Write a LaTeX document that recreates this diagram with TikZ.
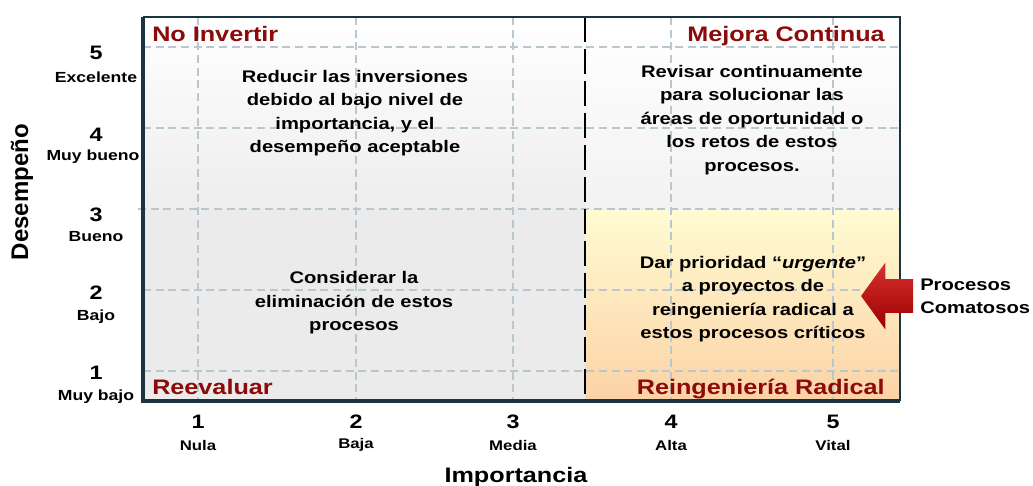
\documentclass[tikz,border=0pt]{standalone}
\usepackage{fontspec}
\setmainfont{Liberation Sans}[FakeStretch=1.2]
\newfontfamily\plainsans{Liberation Sans}
\usetikzlibrary{shapes.arrows}
\definecolor{titlered}{HTML}{8C0A0A}
\definecolor{framec}{HTML}{1A3440}
\definecolor{gridc}{HTML}{B9C7CF}
\definecolor{paleyellow}{HTML}{FFFBD2}
\definecolor{peach}{HTML}{FCD2A6}
\definecolor{arrowlight}{HTML}{D83030}
\definecolor{arrowdark}{HTML}{9C0000}
\begin{document}
\begin{tikzpicture}[x=0.75pt,y=-0.75pt,
    gridline/.style={gridc,line width=0.9pt,dash pattern=on 6pt off 3.5pt},
    quadtitle/.style={text=titlered,inner sep=0pt,font=\bfseries\fontsize{15.75}{18}\selectfont},
    quadtext/.style={align=center,inner sep=0pt,font=\bfseries\fontsize{12.6}{17.6}\selectfont},
    tnum/.style={inner sep=0pt,font=\bfseries\fontsize{14.6}{16}\selectfont},
    ylab/.style={inner sep=0pt,font=\bfseries\fontsize{11}{13}\selectfont},
    xlab/.style={inner sep=0pt,font=\bfseries\fontsize{10.5}{12}\selectfont},
    procarrow/.style={single arrow,shape border rotate=180,top color=arrowlight,bottom color=arrowdark,
        minimum height=39pt,inner xsep=0pt,inner ysep=12.4pt,single arrow head extend=12.4pt,single arrow tip angle=108}]
    \useasboundingbox (0,0) rectangle (1033,486);
    % quadrants
    \shade[top color=white,bottom color=black!7] (143,17) rectangle (585,210);
    \fill[black!8] (143,210) rectangle (585,401);
    \shade[top color=white,bottom color=black!5] (585,17) rectangle (900,210);
    \shade[top color=paleyellow,bottom color=peach] (585,210) rectangle (900,401);
    \draw[gridline] (198,17) -- (198,401) (356,17) -- (356,401) (513,17) -- (513,401)
        (671,17) -- (671,401) (833,17) -- (833,401);
    \draw[gridline] (143,47) -- (900,47) (143,128) -- (900,128) (138,209) -- (900,209)
        (143,290) -- (900,290) (143,371) -- (900,371);
    \draw[line width=2.2pt,dash pattern=on 19pt off 5pt] (585,17) -- (585,401);
    \draw[framec,line width=1.5pt] (143,17) -- (900,17) -- (900,401);
    \draw[framec,line width=2.6pt] (143,17) -- (143,401) -- (900,401);
    % titles of the quadrants
    \node[quadtitle,anchor=base west] (noinvertir) at (152,41) {No Invertir};
    \node[quadtitle,anchor=base east] (mejora) at (885,41) {Mejora Continua};
    \node[quadtitle,anchor=base west] (reevaluar) at (152,394) {Reevaluar};
    \node[quadtitle,anchor=base east] (reingenieria) at (885,394) {Reingeniería Radical};
    \node[quadtext] (reducir) at (355,113) {Reducir las inversiones\\debido al bajo nivel de\\importancia, y el\\desempeño aceptable};
    \node[quadtext] (revisar) at (752,120) {Revisar continuamente\\para solucionar las\\áreas de oportunidad o\\los retos de estos\\procesos.};
    \node[quadtext] (considerar) at (354,303) {Considerar la\\eliminación de estos\\procesos};
    \node[quadtext] (prioridad) at (753,299) {Dar prioridad “\textit{urgente}”\\a proyectos de\\reingeniería radical a\\estos procesos críticos};
    % comatose processes
    \node[anchor=west,align=left,inner sep=0pt,font=\bfseries\fontsize{12.6}{17.3}\selectfont] (comatosos) at (920,296) {Procesos\\Comatosos};
    \node[procarrow,anchor=tail] (flecha) at ([xshift=-5pt]comatosos.west) {};
    % axes
    \node[tnum] (y5) at (96,53) {5};
    \node[ylab] (y5l) at (96,77) {Excelente};
    \node[tnum] (y4) at (96,135) {4};
    \node[ylab] (y4l) at (93,157) {Muy bueno};
    \node[tnum] (y3) at (96,215) {3};
    \node[ylab] (y3l) at (96,237) {Bueno};
    \node[tnum] (y2) at (96,293) {2};
    \node[ylab] (y2l) at (96,317) {Bajo};
    \node[tnum] (y1) at (96,373) {1};
    \node[ylab] (y1l) at (96,397) {Muy bajo};
    \node[tnum] (x1) at (198,422) {1};
    \node[xlab] (x1l) at (198,445) {Nula};
    \node[tnum] (x2) at (356,422) {2};
    \node[xlab] (x2l) at (356,445) {Baja};
    \node[tnum] (x3) at (513,422) {3};
    \node[xlab] (x3l) at (513,445) {Media};
    \node[tnum] (x4) at (671,422) {4};
    \node[xlab] (x4l) at (671,445) {Alta};
    \node[tnum] (x5) at (833,422) {5};
    \node[xlab] (x5l) at (833,445) {Vital};
    \node[rotate=90,font=\plainsans\bfseries\fontsize{18}{20}\selectfont] (desempeno) at (22,192) {Desempeño};
    \node[font=\bfseries\fontsize{15.75}{18}\selectfont] (importancia) at (516,477) {Importancia};
\end{tikzpicture}
\end{document}
